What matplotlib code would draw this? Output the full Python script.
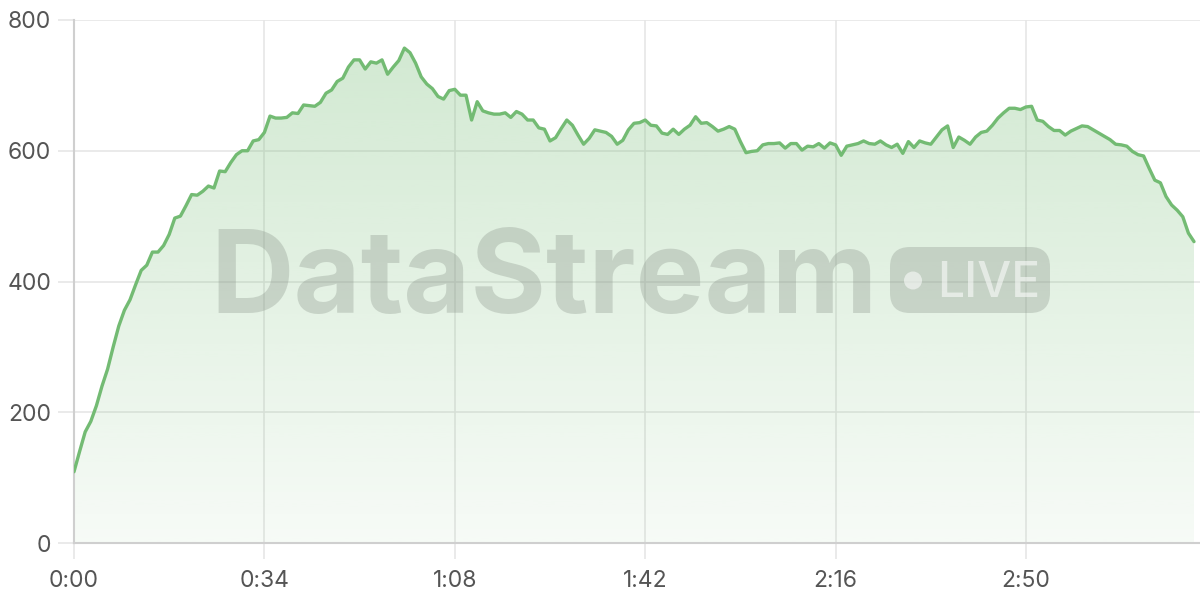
import numpy as np
import matplotlib
matplotlib.use("Agg")
import matplotlib.pyplot as plt
from matplotlib.patches import FancyBboxPatch, Circle, Polygon
from matplotlib.transforms import IdentityTransform
from matplotlib.colors import to_rgb

# ── Data (one reading per second, 0:00 … 3:20) ─────────────────────
values = [
    109, 140, 170, 186, 210, 240, 266, 300, 332, 356,
    372, 395, 417, 425, 445, 445, 455, 472, 497, 500,
    516, 533, 532, 538, 546, 543, 569, 568, 582, 594,
    600, 600, 615, 617, 628, 653, 650, 650, 651, 658,
    657, 670, 669, 668, 674, 688, 693, 706, 711, 728,
    739, 739, 725, 736, 734, 739, 717, 728, 738, 757,
    750, 734, 713, 702, 695, 683, 679, 692, 694, 685,
    685, 647, 675, 661, 658, 656, 656, 658, 651, 660,
    656, 647, 647, 635, 633, 615, 620, 634, 647, 639,
    624, 610, 619, 632, 630, 628, 622, 610, 616, 632,
    642, 643, 647, 639, 638, 627, 625, 633, 625, 633,
    639, 652, 642, 643, 637, 630, 633, 637, 633, 614,
    597, 599, 600, 609, 611, 611, 612, 604, 611, 611,
    601, 607, 606, 611, 604, 612, 609, 593, 607, 609,
    611, 615, 611, 610, 615, 609, 605, 610, 596, 614,
    605, 615, 612, 610, 621, 632, 638, 605, 621, 616,
    610, 621, 628, 630, 639, 650, 658, 665, 665, 663,
    667, 668, 647, 645, 637, 631, 631, 624, 630, 634,
    638, 637, 632, 627, 622, 617, 610, 609, 607, 599,
    594, 592, 573, 555, 551, 530, 517, 509, 499, 474,
    461,
]
seconds = np.arange(len(values))

x_ticks = [0, 34, 68, 102, 136, 170]
x_tick_labels = ["0:00", "0:34", "1:08", "1:42", "2:16", "2:50"]
y_ticks = [0, 200, 400, 600, 800]

# ── Colors / style ──────────────────────────────────────────────────
LINE = "#73bb73"
GRID = "#e6e6e6"
AXIS = "#cfcfcf"
TEXT = "#555555"
MARK = "#8a948a"

plt.rcParams["font.family"] = ["Inter", "DejaVu Sans"]

fig = plt.figure(figsize=(12, 6), dpi=100)
ax = fig.add_axes([74 / 1200, 57 / 600, 1126 / 1200, 523 / 600])

# gradient area under the line
grad = np.zeros((256, 1, 4))
grad[:, :, :3] = to_rgb(LINE)
grad[:, 0, 3] = np.linspace(0.32, 0.06, 256)
im = ax.imshow(grad, aspect="auto", origin="upper", zorder=1,
               extent=[seconds[0], seconds[-1], 0, max(values)])
verts = np.column_stack([np.r_[seconds, seconds[-1], seconds[0]],
                         np.r_[values, 0, 0]])
clip = Polygon(verts, closed=True, transform=ax.transData)
im.set_clip_path(clip)

ax.plot(seconds, values, color=LINE, linewidth=2.4, zorder=3,
        solid_joinstyle="round", solid_capstyle="round")

ax.set_xlim(0, 201.07)
ax.set_ylim(0, 800)
ax.set_xticks(x_ticks)
ax.set_xticklabels(x_tick_labels)
ax.set_yticks(y_ticks)

ax.set_axisbelow(True)
ax.grid(True, color=GRID, linewidth=1.2)
for side in ("top", "right"):
    ax.spines[side].set_visible(False)
for side in ("left", "bottom"):
    ax.spines[side].set_color(AXIS)
    ax.spines[side].set_linewidth(1.5)
ax.tick_params(axis="both", length=11.5, width=1.2, color=GRID,
               labelcolor=TEXT, labelsize=16.5)
ax.tick_params(axis="x", pad=8)
ax.tick_params(axis="y", pad=5)

# ── Watermark ───────────────────────────────────────────────────────
fig.text(210 / 1200, 1 - 313 / 600, "DataStream", fontsize=83.3,
         fontweight="bold", color=MARK, alpha=0.33,
         ha="left", va="baseline", zorder=5)
badge = FancyBboxPatch((890, 287), 160, 66,
                       boxstyle="round,pad=0,rounding_size=20",
                       transform=IdentityTransform(), facecolor=MARK,
                       edgecolor="none", alpha=0.33, zorder=5)
fig.add_artist(badge)
fig.add_artist(Circle((913, 319.5), 9, transform=IdentityTransform(),
                      facecolor="white", edgecolor="none", alpha=0.55,
                      zorder=6))
fig.text(937 / 1200, 1 - 297 / 600, "LIVE", fontsize=34.5,
         fontweight="medium", color="white", alpha=0.55,
         ha="left", va="baseline", zorder=6)

fig.savefig("out.png", dpi=100)
